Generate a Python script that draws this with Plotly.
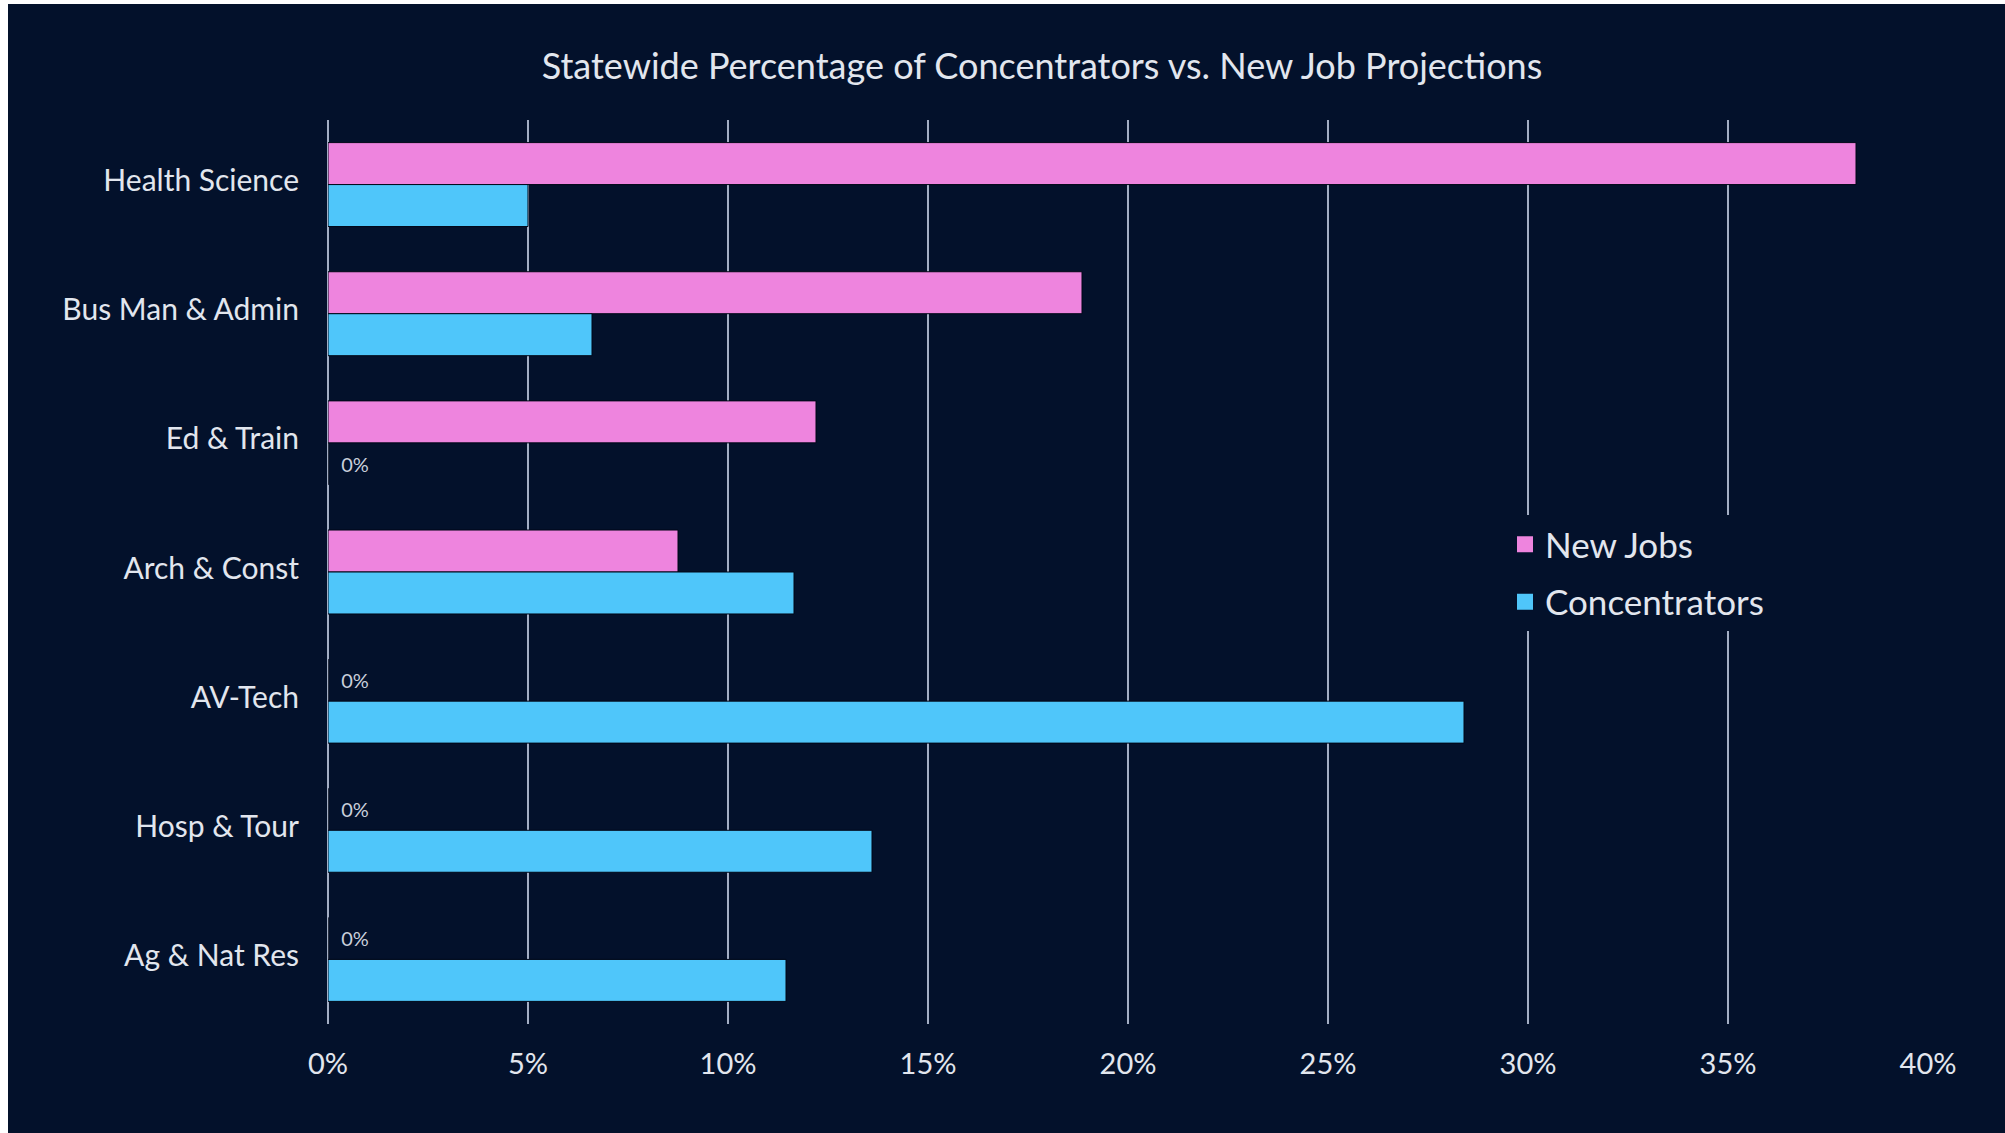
import plotly.graph_objects as go

# Career pathway categories (top to bottom)
categories = [
    "Health Science",
    "Bus Man & Admin",
    "Ed & Train",
    "Arch & Const",
    "AV-Tech",
    "Hosp & Tour",
    "Ag & Nat Res",
]

# Share of projected new jobs and of concentrators, in percent
new_jobs = [38.2, 18.85, 12.2, 8.75, 0, 0, 0]
concentrators = [5.0, 6.6, 0, 11.65, 28.4, 13.6, 11.45]

x_ticks = [0, 5, 10, 15, 20, 25, 30, 35, 40]
x_tick_labels = ["0%", "5%", "10%", "15%", "20%", "25%", "30%", "35%", "40%"]

PINK = "#EE84DE"
BLUE = "#4FC6FA"
BG = "#03112B"
TEXT = "#E2E6EE"
GRID = "#A3AEC4"
FONT = "Lato"

W, H = 2005, 1133
M_L, M_R, M_T, M_B = 328, 77, 120, 109


def zero_labels(values):
    # label only the empty bars, nudged a little off the axis
    return ["\u00a0\u00a00%" if v == 0 else "" for v in values]


fig = go.Figure()

fig.add_trace(go.Bar(
    name="New Jobs", y=categories, x=new_jobs, orientation="h",
    marker=dict(color=PINK, line=dict(color="#010717", width=1)),
    text=zero_labels(new_jobs), textposition="outside",
    textfont=dict(family=FONT, size=20, color="#C9CFDB"),
    cliponaxis=False, showlegend=False,
))
fig.add_trace(go.Bar(
    name="Concentrators", y=categories, x=concentrators, orientation="h",
    marker=dict(color=BLUE, line=dict(color="#010717", width=1)),
    text=zero_labels(concentrators), textposition="outside",
    textfont=dict(family=FONT, size=20, color="#C9CFDB"),
    cliponaxis=False, showlegend=False,
))

# Legend entries with larger square swatches
for name, color in [("New Jobs", PINK), ("Concentrators", BLUE)]:
    fig.add_trace(go.Scatter(
        x=[None], y=[None], mode="markers", name=name, legendgroup=name,
        marker=dict(symbol="square", size=16, color=color),
        showlegend=True, hoverinfo="skip",
    ))

# Thin light edges along the left and top borders
pw = W - M_L - M_R
ph = H - M_T - M_B
fig.add_shape(type="rect", xref="paper", yref="paper",
              x0=-M_L / pw, x1=(8 - M_L) / pw, y0=-M_B / ph, y1=1 + M_T / ph,
              fillcolor="white", line=dict(width=0), layer="above")
fig.add_shape(type="rect", xref="paper", yref="paper",
              x0=-M_L / pw, x1=1 + M_R / pw, y0=1 + (M_T - 4) / ph, y1=1 + M_T / ph,
              fillcolor="white", line=dict(width=0), layer="above")

fig.update_layout(
    width=W, height=H,
    margin=dict(l=M_L, r=M_R, t=M_T, b=M_B),
    paper_bgcolor=BG, plot_bgcolor=BG,
    barmode="group", bargap=0.35, bargroupgap=0,
    font=dict(family=FONT, color=TEXT),
    title=dict(
        text="Statewide Percentage of Concentrators vs. New Job Projections",
        x=1042 / W, xref="container", xanchor="center",
        y=1 - 66 / H, yref="container", yanchor="middle",
        font=dict(family=FONT, size=36, color=TEXT),
    ),
    xaxis=dict(
        range=[0, 40], tickvals=x_ticks, ticktext=x_tick_labels,
        showgrid=True, gridcolor=GRID, gridwidth=2,
        zeroline=True, zerolinecolor=GRID, zerolinewidth=2,
        showline=False, ticks="", ticklabelstandoff=20,
        tickfont=dict(family=FONT, size=29, color=TEXT),
        fixedrange=True,
    ),
    yaxis=dict(
        autorange="reversed", showgrid=False, zeroline=False,
        showline=False, ticks="", ticklabelstandoff=28, ticklabelshift=4,
        tickfont=dict(family=FONT, size=30, color=TEXT),
    ),
    legend=dict(
        x=(1505 - M_L) / pw, xanchor="left",
        y=1 - (515 - M_T) / ph, yanchor="top",
        bgcolor=BG, borderwidth=0,
        font=dict(family=FONT, size=35, color=TEXT),
        traceorder="grouped", tracegroupgap=9,
        itemwidth=30,
    ),
)

fig.write_html("out.html")
